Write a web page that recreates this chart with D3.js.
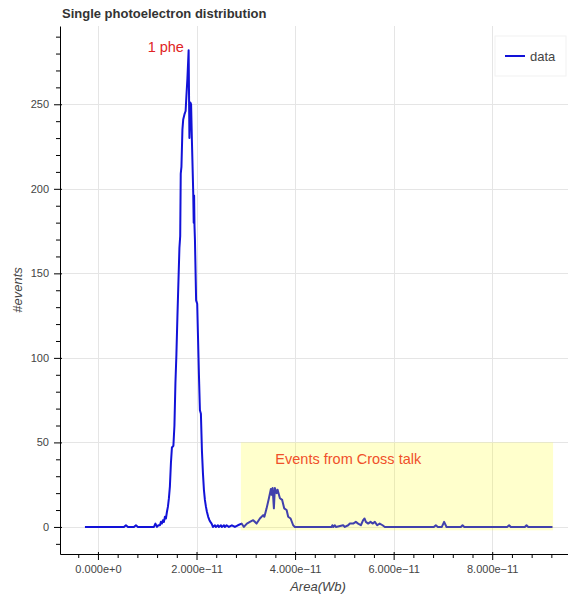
<!DOCTYPE html>
<html>
<head>
<meta charset="utf-8">
<script src="https://cdn.jsdelivr.net/npm/d3@7"></script>
<style>
  body { margin: 0; background: #fff; }
  text { font-family: "Liberation Sans", Arial, Helvetica, sans-serif; }
</style>
</head>
<body>
<svg id="chart" width="568" height="597"></svg>
<script>
// bin area in units of 1e-11 Wb, and counts
const areaE11 = [-0.264, 0.527, 0.568, 0.609, 0.730, 0.771, 0.811, 1.055, 1.136, 1.166, 1.197, 1.227, 1.258, 1.278, 1.298, 1.318, 1.339, 1.359, 1.379, 1.400,
  1.420, 1.440, 1.460, 1.481, 1.501, 1.531, 1.552, 1.572, 1.592, 1.613, 1.633, 1.653, 1.669, 1.680, 1.694, 1.714, 1.730, 1.755, 1.779, 1.795,
  1.815, 1.840, 1.856, 1.876, 1.890, 1.907, 1.927, 1.933, 1.943, 1.951, 1.959, 1.968, 1.984, 1.992, 2.014, 2.028, 2.049, 2.069, 2.089, 2.110,
  2.130, 2.150, 2.170, 2.191, 2.211, 2.237, 2.262, 2.282, 2.306, 2.333, 2.373, 2.394, 2.434, 2.454, 2.495, 2.515, 2.556, 2.576, 2.611, 2.657,
  2.718, 2.779, 2.840, 2.915, 2.961, 3.022, 3.083, 3.150, 3.219, 3.286, 3.353, 3.377, 3.422, 3.469, 3.509, 3.523, 3.544, 3.570, 3.590, 3.625,
  3.645, 3.692, 3.738, 3.779, 3.828, 3.860, 3.909, 3.961, 3.996, 4.740, 4.757, 4.777, 4.807, 4.828, 4.976, 5.010, 5.077, 5.112, 5.178, 5.233,
  5.280, 5.335, 5.381, 5.410, 5.436, 5.483, 5.531, 5.572, 5.619, 5.665, 5.716, 5.775, 5.822, 6.815, 6.856, 6.897, 6.978, 7.024, 7.073, 7.363,
  7.398, 7.434, 8.302, 8.343, 8.377, 8.661, 8.696, 8.732, 9.223];
const events = [0, 0, 1, 0, 0, 1, 0, 0, 0, 2, 0, 1, 1, 3, 2, 4, 3, 6, 5, 9,
  12, 17, 24, 38, 47, 48, 60, 85, 102, 125, 145, 165, 172, 209, 213, 235, 241, 244, 246, 255,
  265, 282, 230, 251, 250, 228, 205, 198, 180, 196, 178, 170, 146, 134, 132, 115, 90, 69, 67, 45,
  32, 22, 16, 12, 9, 6, 4, 3, 2, 0, 1, 0, 1, 0, 1, 0, 1, 0, 1, 0,
  1, 0, 1, 2, 0, 2, 3, 4, 2, 5, 7, 6, 11, 17, 22.5, 19, 23, 11, 23, 20,
  22, 17, 16, 11, 10, 6, 5, 1, 0, 0, 1, 0, 1, 0, 1, 0, 1, 2, 2, 3,
  2, 1, 4, 5, 3, 2, 3, 2, 3, 1, 2, 1, 0, 0, 1, 0, 0, 3, 0, 0,
  1, 0, 0, 1, 0, 0, 1, 0, 0];

const xMajor = [0, 2, 4, 6, 8];
const yMajor = [0, 50, 100, 150, 200, 250];
const crossTalkBox = { left: 2.90, right: 9.235, bottom: -2, top: 50 };
const phePos = [1.008, 281];
const crossPos = [3.6, 37.3];

const frame = { left: 60, right: 576, top: 26, bottom: 554 };
const svg = d3.select("#chart");

const x = d3.scaleLinear().domain([-0.77, 9.70]).range([frame.left, frame.right]);
const y = d3.scaleLinear().domain([-16, 296.3]).range([frame.bottom, frame.top]);

const data = areaE11.map((a, i) => ({ a: a, n: events[i] }));

svg.append("clipPath").attr("id", "clip")
  .append("rect").attr("x", frame.left).attr("y", frame.top)
  .attr("width", frame.right - frame.left).attr("height", frame.bottom - frame.top);

// grid
const grid = svg.append("g").attr("stroke", "#e5e5e5").attr("stroke-width", 1);
grid.selectAll("line.gx").data(xMajor).join("line").attr("class", "gx")
  .attr("x1", d => Math.round(x(d)) + 0.5).attr("x2", d => Math.round(x(d)) + 0.5)
  .attr("y1", frame.top).attr("y2", frame.bottom);
grid.selectAll("line.gy").data(yMajor).join("line").attr("class", "gy")
  .attr("y1", d => Math.round(y(d)) + 0.5).attr("y2", d => Math.round(y(d)) + 0.5)
  .attr("x1", frame.left).attr("x2", frame.right);

const plot = svg.append("g").attr("clip-path", "url(#clip)");

plot.append("path").datum(data)
  .attr("fill", "none").attr("stroke", "#1212d8").attr("stroke-width", 2)
  .attr("stroke-linejoin", "round")
  .attr("d", d3.line().x(d => x(d.a)).y(d => y(d.n)));

plot.append("rect")
  .attr("x", x(crossTalkBox.left)).attr("y", y(crossTalkBox.top))
  .attr("width", x(crossTalkBox.right) - x(crossTalkBox.left))
  .attr("height", y(crossTalkBox.bottom) - y(crossTalkBox.top))
  .attr("fill", "yellow").attr("fill-opacity", 0.2);

svg.append("text").attr("x", x(phePos[0])).attr("y", y(phePos[1]))
  .attr("fill", "#e02424").attr("font-size", "14.5px").text("1 phe");
svg.append("text").attr("x", x(crossPos[0])).attr("y", y(crossPos[1]))
  .attr("fill", "#f0502a").attr("font-size", "14.5px").text("Events from Cross talk");

// axes
const fmtX = d => d === 0 ? "0.000e+0" : d.toFixed(3) + "e\u221211";
const xAxis = svg.append("g").attr("transform", `translate(0,${frame.bottom})`)
  .call(d3.axisBottom(x).tickValues(xMajor).tickSizeInner(6).tickSizeOuter(0).tickPadding(5).tickFormat(fmtX));
xAxis.selectAll(".tick line").attr("y1", -2);
svg.append("g").attr("transform", `translate(0,${frame.bottom})`)
  .call(d3.axisBottom(x).tickValues(d3.range(-0.4, 9.7, 0.4).filter(v => Math.abs(v / 2 - Math.round(v / 2)) > 0.01))
    .tickSizeInner(4).tickSizeOuter(0).tickFormat(""))
  .select(".domain").remove();

const yAxis = svg.append("g").attr("transform", `translate(${frame.left},0)`)
  .call(d3.axisLeft(y).tickValues(yMajor).tickSizeInner(6).tickSizeOuter(0).tickPadding(5));
yAxis.selectAll(".tick line").attr("x1", 2);
svg.append("g").attr("transform", `translate(${frame.left},0)`)
  .call(d3.axisLeft(y).tickValues(d3.range(-10, 300, 10).filter(v => v % 50 !== 0))
    .tickSizeInner(4).tickSizeOuter(0).tickFormat(""))
  .select(".domain").remove();

svg.selectAll(".tick text").attr("font-family", "\"Liberation Sans\", Arial, sans-serif")
  .attr("font-size", "11px").attr("fill", "#444");

svg.append("text").attr("x", (frame.left + frame.right) / 2).attr("y", 591)
  .attr("text-anchor", "middle").attr("font-size", "13px").attr("font-style", "italic")
  .attr("fill", "#444").text("Area(Wb)");
svg.append("text").attr("transform", `translate(22,${(frame.top + frame.bottom) / 2}) rotate(-90)`)
  .attr("text-anchor", "middle").attr("font-size", "13px").attr("font-style", "italic")
  .attr("fill", "#444").text("#events");

svg.append("text").attr("x", 62).attr("y", 18).attr("font-size", "13px")
  .attr("font-weight", "bold").attr("fill", "#333").text("Single photoelectron distribution");

// legend
const lg = svg.append("g").attr("transform", `translate(${frame.right - 10 - 71},${frame.top + 10})`);
lg.append("rect").attr("width", 71).attr("height", 40).attr("fill", "#fff").attr("fill-opacity", 0.95)
  .attr("stroke", "#e5e5e5").attr("stroke-opacity", 0.5);
lg.append("line").attr("x1", 10).attr("x2", 30).attr("y1", 20).attr("y2", 20)
  .attr("stroke", "#1212d8").attr("stroke-width", 2);
lg.append("text").attr("x", 35).attr("y", 20).attr("dy", "0.35em").attr("font-size", "13px")
  .attr("fill", "#444").text("data");
</script>
</body>
</html>
